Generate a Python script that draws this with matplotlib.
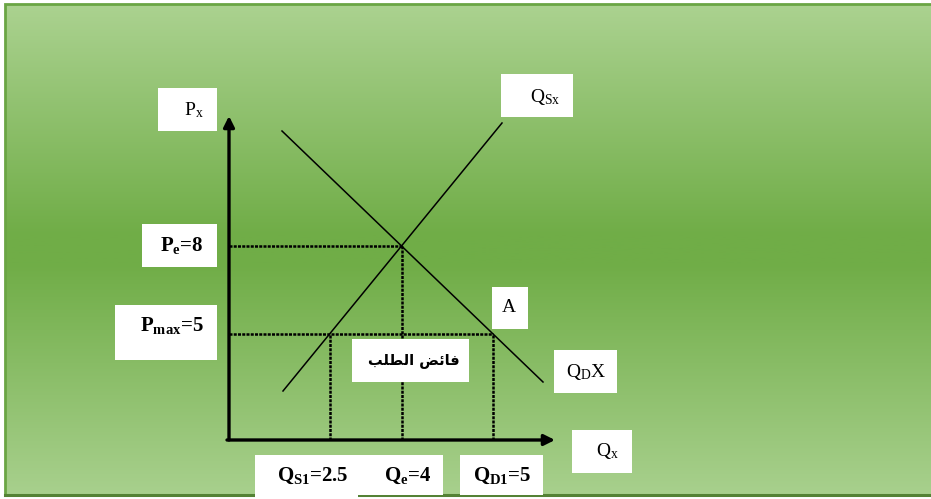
import numpy as np
import matplotlib.pyplot as plt
from matplotlib.patches import Rectangle
from matplotlib.colors import LinearSegmentedColormap

plt.rcParams['font.family'] = ['Liberation Serif', 'DejaVu Sans']
plt.rcParams['mathtext.fontset'] = 'custom'
plt.rcParams['mathtext.rm'] = 'Liberation Serif'
plt.rcParams['mathtext.bf'] = 'Liberation Serif:bold'
plt.rcParams['mathtext.it'] = 'Liberation Serif:italic'

# schematic diagram, units measured from the origin of the Q/P axes
supply_q = [54, 273]
supply_p = [49, 317]
demand_q = [53, 314]
demand_p = [309, 58]
p_max_level = 106
q_axis_len = 326
p_axis_len = 324

axis_labels = [r'P$_{\mathrm{x}}$', r'Q$_{\mathrm{x}}$']
curve_labels = [r'Q$_{\mathrm{Sx}}$', r'Q$_{\mathrm{D}}$X']
price_labels = [r'P$_{\mathbf{e}}$=8', r'P$_{\mathbf{max}}$=5']
qty_labels = [r'Q$_{\mathbf{S1}}$=2.5', r'Q$_{\mathbf{e}}$=4', r'Q$_{\mathbf{D1}}$=5']
point_label = 'A'
surplus_label = 'فائض الطلب'


# matplotlib has no arabic shaping, so pick the presentation forms by hand
FORMS = {
    'ف': ('\uFED1', '\uFED2', '\uFED3', '\uFED4'),
    'ا': ('\uFE8D', '\uFE8E', None, None),
    'ئ': ('\uFE89', '\uFE8A', '\uFE8B', '\uFE8C'),
    'ض': ('\uFEBD', '\uFEBE', '\uFEBF', '\uFEC0'),
    'ل': ('\uFEDD', '\uFEDE', '\uFEDF', '\uFEE0'),
    'ط': ('\uFEC1', '\uFEC2', '\uFEC3', '\uFEC4'),
    'ب': ('\uFE8F', '\uFE90', '\uFE91', '\uFE92'),
}


def shape_arabic(s):
    out = []
    for i, ch in enumerate(s):
        if ch not in FORMS:
            out.append(ch)
            continue
        prev = s[i - 1] if i > 0 else ' '
        nxt = s[i + 1] if i < len(s) - 1 else ' '
        join_prev = prev in FORMS and FORMS[prev][2] is not None
        join_next = nxt in FORMS and FORMS[ch][2] is not None
        iso, fin, ini, med = FORMS[ch]
        if join_prev and join_next:
            out.append(med)
        elif join_prev:
            out.append(fin)
        elif join_next:
            out.append(ini)
        else:
            out.append(iso)
    return ''.join(out[::-1])


def q_on(qs, ps, p):
    return qs[0] + (p - ps[0]) * (qs[1] - qs[0]) / (ps[1] - ps[0])


# equilibrium of the two straight lines
ms = (supply_p[1] - supply_p[0]) / (supply_q[1] - supply_q[0])
md = (demand_p[1] - demand_p[0]) / (demand_q[1] - demand_q[0])
q_e = (demand_p[0] - supply_p[0] + ms * supply_q[0] - md * demand_q[0]) / (ms - md)
p_e = supply_p[0] + ms * (q_e - supply_q[0])
q_s1 = q_on(supply_q, supply_p, p_max_level)
q_d1 = q_on(demand_q, demand_p, p_max_level)

OX, OY = 229, 440  # origin of the diagram in the picture


def px(x, y):
    return x - OX, OY - y


fig = plt.figure(figsize=(9.31, 4.99), dpi=100)
ax = fig.add_axes([0, 0, 1, 1])
ax.set_xlim(-OX, 931 - OX)
ax.set_ylim(OY - 499, OY)
ax.axis('off')

# green gradient panel
cmap = LinearSegmentedColormap.from_list(
    'g', [(0, '#abd290'), (0.47, '#70ad47'), (0.53, '#70ad47'), (1, '#a8d08d')])
grad = np.linspace(0, 1, 256).reshape(-1, 1)
x0, y0 = px(5, 4)
x1, y1 = px(940, 495)
ax.imshow(grad, cmap=cmap, extent=[x0, x1, y1, y0], aspect='auto', zorder=0)
ax.add_patch(Rectangle((x0, y1), x1 - x0, y0 - y1, fill=False,
                       edgecolor='#6aa544', lw=2, zorder=1))
ax.plot([x0, x1], [y1, y1], color='#548235', lw=2.2, zorder=1)

# supply and demand
ax.plot(supply_q, supply_p, color='black', lw=1.1, zorder=3)
ax.plot(demand_q, demand_p, color='black', lw=1.1, zorder=3)

# guide lines
dots = dict(color='black', lw=1.8, ls=(0, (1.2, 0.5)), zorder=2)
ax.plot([0, q_e], [p_e, p_e], **dots)
ax.plot([q_e, q_e], [0, p_e], **dots)
ax.plot([0, q_d1], [p_max_level, p_max_level], **dots)
ax.plot([q_s1, q_s1], [0, p_max_level], **dots)
ax.plot([q_d1, q_d1], [0, p_max_level], **dots)

# axes with arrows
arr = dict(arrowstyle='-|>', lw=2.4, color='black', mutation_scale=16,
           shrinkA=0, shrinkB=0)
ax.annotate('', xy=(0, p_axis_len), xytext=(0, 0), arrowprops=arr, zorder=4)
ax.annotate('', xy=(q_axis_len, 0), xytext=(-2, 0), arrowprops=arr, zorder=4)


def box(x_a, y_a, x_b, y_b):
    a = px(x_a, y_a)
    b = px(x_b, y_b)
    ax.add_patch(Rectangle((a[0], b[1]), b[0] - a[0], a[1] - b[1],
                           facecolor='white', edgecolor='none', zorder=5))


def label(x, y, s, ha='center', size=14, **kw):
    ax.text(*px(x, y), s, ha=ha, va='center', fontsize=size, zorder=6, **kw)


box(158, 88, 217, 131)
label(204, 110, axis_labels[0], ha='right')
box(572, 430, 632, 473)
label(607, 451, axis_labels[1])

box(501, 74, 573, 117)
label(545, 97, curve_labels[0])
box(554, 350, 617, 393)
label(586, 372, curve_labels[1])

box(142, 224, 217, 267)
label(204, 246, price_labels[0], ha='right', size=15, fontweight='bold')
box(115, 305, 217, 360)
label(204, 326, price_labels[1], ha='right', size=15, fontweight='bold')

box(255, 455, 358, 499)
box(358, 455, 443, 495)
box(460, 455, 543, 495)
for xc, s in zip([313, 408, 502], qty_labels):
    label(xc, 476, s, size=15, fontweight='bold')

box(492, 287, 528, 329)
label(509, 308, point_label)

box(352, 339, 469, 382)
label(414, 360, shape_arabic(surplus_label), size=10.5,
      family=['DejaVu Sans'], fontweight='bold')

fig.savefig('out.png', dpi=100)
